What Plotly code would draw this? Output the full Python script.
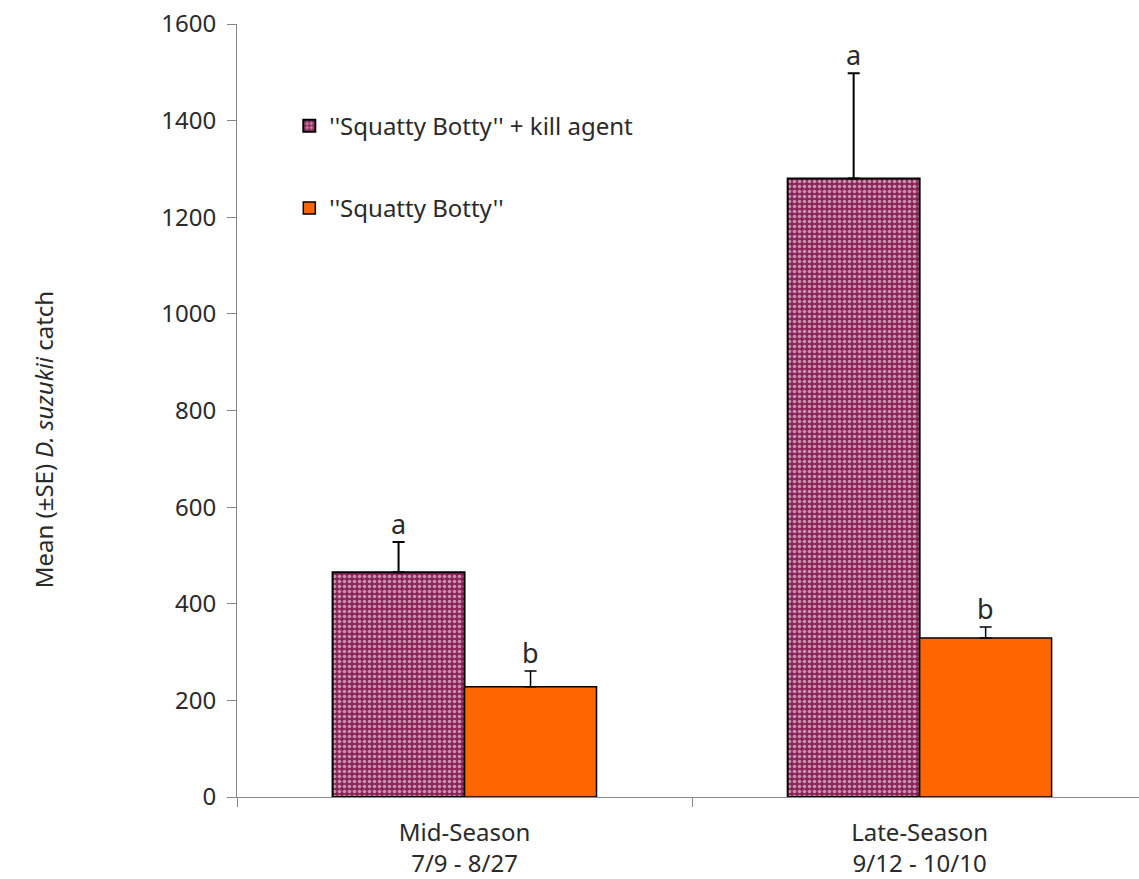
import plotly.graph_objects as go

categories = ["Mid-Season<br>7/9 - 8/27", "Late-Season<br>9/12 - 10/10"]
kill_mean = [465, 1280]
kill_se = [63, 218]
squat_mean = [228, 329]
squat_se = [33, 23]
kill_letters = ["a", "a"]
squat_letters = ["b", "b"]
y_ticks = [0, 200, 400, 600, 800, 1000, 1200, 1400, 1600]

FONT = "Noto Sans"
TXT = "#2a2a2a"
bargap = 0.42
half = (1 - bargap) / 4

fig = go.Figure()
fig.add_trace(go.Bar(
    x=categories, y=kill_mean, name="''Squatty Botty'' + kill agent",
    legendgroup="g1",
    marker=dict(color="#8C2459", line=dict(color="black", width=2),
                pattern=dict(shape=".", fgcolor="white", bgcolor="#8C2459",
                             size=5, solidity=0.42, fillmode="overlay")),
    error_y=dict(type="data", array=kill_se, arrayminus=[0, 0], symmetric=False,
                 color="black", thickness=2, width=6),
))
fig.add_trace(go.Bar(
    x=categories, y=squat_mean, name="''Squatty Botty''",
    legendgroup="g2",
    marker=dict(color="#FF6600", line=dict(color="black", width=1.5)),
    error_y=dict(type="data", array=squat_se, arrayminus=[0, 0], symmetric=False,
                 color="black", thickness=1.5, width=6),
))

for i in range(len(categories)):
    fig.add_annotation(x=i - half, y=kill_mean[i] + kill_se[i], text=kill_letters[i],
                       showarrow=False, yanchor="bottom", yshift=-2,
                       font=dict(family=FONT, size=27, color=TXT))
    fig.add_annotation(x=i + half, y=squat_mean[i] + squat_se[i], text=squat_letters[i],
                       showarrow=False, yanchor="bottom", yshift=-2,
                       font=dict(family=FONT, size=27, color=TXT))

fig.add_annotation(x=(25 - 237) / 902, y=0.462, xref="paper", yref="paper",
                   text="Mean (±SE) <i>D. suzukii</i> catch", textangle=-90,
                   showarrow=False, font=dict(family=FONT, size=24, color=TXT))

fig.update_layout(
    width=1139, height=879,
    margin=dict(l=237, r=0, t=24, b=82),
    paper_bgcolor="white", plot_bgcolor="white",
    barmode="group", bargap=bargap, bargroupgap=0,
    font=dict(family=FONT, size=24, color=TXT),
    legend=dict(x=0.058, y=0.897, xanchor="left", yanchor="top",
                tracegroupgap=48, font=dict(family=FONT, size=24, color=TXT),
                bgcolor="rgba(0,0,0,0)", itemwidth=30),
    showlegend=True,
)
fig.update_xaxes(type="category", range=[-0.5, 1.482], showline=True, linecolor="#888",
                 linewidth=1, ticks="outside", tickson="boundaries", ticklen=9,
                 tickcolor="#888", showgrid=False, tickfont=dict(size=24),
                 ticklabelstandoff=14)
fig.update_yaxes(range=[0, 1600], tickvals=y_ticks, showline=True, linecolor="#888",
                 linewidth=1, ticks="outside", ticklen=9, tickcolor="#888",
                 showgrid=False, zeroline=False, tickfont=dict(size=24), ticklabelstandoff=6)

fig.write_html("out.html")
